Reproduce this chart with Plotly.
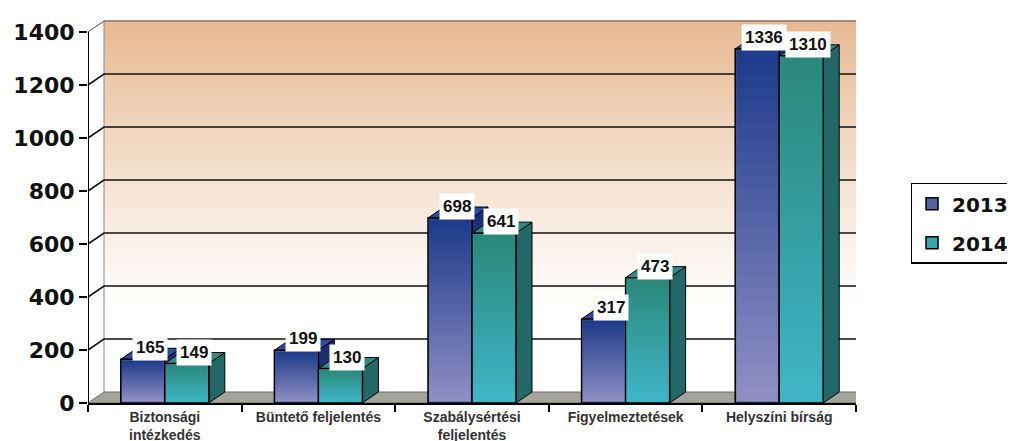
import plotly.graph_objects as go

# ---------------- data ----------------
categories = ["Biztonsági<br>intézkedés", "Büntető feljelentés",
              "Szabálysértési<br>feljelentés", "Figyelmeztetések", "Helyszíni bírság"]
series_names = ["2013", "2014"]
values_2013 = [165, 199, 698, 317, 1336]
values_2014 = [149, 130, 641, 473, 1310]
y_ticks = [0, 200, 400, 600, 800, 1000, 1200, 1400]

# ---------------- geometry / style ----------------
W, H = 1015, 441
ML, MR, MT, MB = 80, 167, 10, 46
PW, PH = W - ML - MR, H - MT - MB
Y_TOP = y_ticks[-1]
PX_PER_UNIT = (395 - 24) / Y_TOP
Y_RANGE_MAX = PH / PX_PER_UNIT
n = len(categories)
PX_PER_CAT = PW / n
DXP, DYP = 16, 11                      # 3-D depth in pixels
dx = DXP / PX_PER_CAT
dy = DYP / PX_PER_UNIT
BARGAP = 0.427
bw = (1 - BARGAP) / 2
inx = 1.2 / PX_PER_CAT
iny = 1.2 / PX_PER_UNIT

def hex2rgb(h):
    h = h.lstrip('#')
    return tuple(int(h[i:i + 2], 16) for i in (0, 2, 4))

def lerp(c0, c1, t):
    a, b = hex2rgb(c0), hex2rgb(c1)
    return 'rgb(%d,%d,%d)' % tuple(round(a[i] + (b[i] - a[i]) * t) for i in range(3))

front_grad = {"2013": ("#9090c4", "#1c3a8a"), "2014": ("#3fb6c8", "#2a887a")}
top_face = {"2013": "#2d4b9c", "2014": "#2e8c86"}
side_face = {"2013": "#1b2f72", "2014": "#216866"}
legend_col = {"2013": "#5262a9", "2014": "#38a6ac"}

shapes = []
x0w, x1w = -0.5 + dx, n - 0.5 + dx

# back wall gradient
NB = 70
for k in range(NB):
    v0 = dy + (Y_TOP) * k / NB
    v1 = dy + (Y_TOP) * (k + 1) / NB
    vm = (v0 + v1) / 2 - dy
    t = max(0.0, min(1.0, (vm - 300) / (Y_TOP - 300)))
    shapes.append(dict(type="rect", xref="x", yref="y", x0=x0w, x1=x1w, y0=v0, y1=v1 + 3,
                       fillcolor=lerp("#ffffff", "#e7b992", t ** 1.1), line=dict(width=0), layer="below"))

# wall edges
shapes.append(dict(type="line", xref="x", yref="y", x0=x0w, x1=x0w, y0=dy, y1=Y_TOP + dy,
                   line=dict(color="#8a8a8a", width=1), layer="below"))
shapes.append(dict(type="line", xref="x", yref="y", x0=x1w, x1=x1w, y0=dy, y1=Y_TOP + dy,
                   line=dict(color="#8a8a8a", width=1.2), layer="below"))

# grid lines (left side wall diagonal + back wall horizontal)
for v in y_ticks[1:]:
    col, wd = ("#555555", 1) if v == Y_TOP else ("#111111", 1.6)
    shapes.append(dict(type="path", xref="x", yref="y",
                       path="M %f,%f L %f,%f L %f,%f" % (-0.5, v, x0w, v + dy, x1w, v + dy),
                       line=dict(color=col, width=wd), layer="below"))

# floor
shapes.append(dict(type="path", xref="x", yref="y",
                   path="M %f,%f L %f,%f L %f,%f L %f,%f Z" % (-0.5, 0, n - 0.5, 0, x1w, dy, x0w, dy),
                   fillcolor="#a4a49c", line=dict(color="#6e6e68", width=1), layer="below"))

# bar 3-D faces
for i in range(n):
    for s, vals, off in (("2013", values_2013, -bw), ("2014", values_2014, 0.0)):
        v = vals[i]
        xa, xb = i + off, i + off + bw
        shapes.append(dict(type="path", xref="x", yref="y",
                           path="M %f,%f L %f,%f L %f,%f L %f,%f Z" % (xb, 0, xb + dx, dy, xb + dx, v + dy, xb, v),
                           fillcolor=side_face[s], line=dict(color="#000000", width=1), layer="below"))
        shapes.append(dict(type="path", xref="x", yref="y",
                           path="M %f,%f L %f,%f L %f,%f L %f,%f Z" % (xa, v, xb, v, xb + dx, v + dy, xa + dx, v + dy),
                           fillcolor=top_face[s], line=dict(color="#000000", width=1), layer="below"))

# gradient on bar fronts (inside the outline)
NG = 28
for i in range(n):
    for s, vals, off in (("2013", values_2013, -bw), ("2014", values_2014, 0.0)):
        v = vals[i]
        xa, xb = i + off + inx, i + off + bw - inx
        c0, c1 = front_grad[s]
        top = v - iny
        for k in range(NG):
            y0 = iny + (top - iny) * k / NG
            y1 = iny + (top - iny) * (k + 1) / NG
            y1o = min(top, y1 + (top - iny) / NG * 0.5)
            shapes.append(dict(type="rect", xref="x", yref="y", x0=xa, x1=xb, y0=y0, y1=y1o,
                               fillcolor=lerp(c0, c1, (k + 0.5) / NG), line=dict(width=0), layer="above"))

# front y axis line
shapes.append(dict(type="line", xref="x", yref="y", x0=-0.5, x1=-0.5, y0=0, y1=Y_TOP,
                   line=dict(color="#000000", width=2), layer="above"))

fig = go.Figure()
xs = list(range(n))
fig.add_trace(go.Bar(name=series_names[0], x=xs, y=values_2013, legendgroup="a",
                     marker=dict(color=legend_col["2013"], line=dict(color="#000000", width=1.5))))
fig.add_trace(go.Bar(name=series_names[1], x=xs, y=values_2014, legendgroup="b",
                     marker=dict(color=legend_col["2014"], line=dict(color="#000000", width=1.5))))

annotations = []
for i in range(n):
    for vals, off in ((values_2013, -bw / 2), (values_2014, bw / 2)):
        annotations.append(dict(x=i + off, y=vals[i], xref="x", yref="y", text=str(vals[i]),
                                showarrow=False, xanchor="center", yanchor="bottom", xshift=7, yshift=-2,
                                bgcolor="#ffffff", borderpad=3,
                                font=dict(family="Liberation Sans, Arial", size=17, color="#111111", weight="bold")))

fig.update_layout(
    width=W, height=H, margin=dict(l=ML, r=MR, t=MT, b=MB, autoexpand=False),
    paper_bgcolor="#ffffff", plot_bgcolor="rgba(0,0,0,0)",
    barmode="group", bargap=BARGAP, bargroupgap=0,
    shapes=shapes, annotations=annotations, hovermode=False,
    legend=dict(x=1.071, y=0.572, xanchor="left", yanchor="top", bordercolor="#000000", borderwidth=1.5,
                bgcolor="#ffffff", font=dict(family="DejaVu Sans", size=20, color="#111111", weight="bold"),
                itemwidth=30, traceorder="grouped", tracegroupgap=10),
    xaxis=dict(range=[-0.5, n - 0.5], tickvals=xs, ticktext=categories, ticks="", showgrid=False,
               zeroline=False, showline=True, linecolor="#000000", linewidth=2, automargin=False,
               tickfont=dict(family="Liberation Sans, Arial", size=14, color="#333333", weight="bold"),
               minor=dict(ticks="outside", tick0=-0.5, dtick=1, ticklen=7, tickwidth=1.6,
                          tickcolor="#000000", showgrid=False)),
    yaxis=dict(range=[0, Y_RANGE_MAX], tickvals=y_ticks, ticks="outside", ticklen=8, tickwidth=1.6,
               tickcolor="#000000", showgrid=False, zeroline=False, showline=False, automargin=False,
               tickfont=dict(family="DejaVu Sans", size=22, color="#111111", weight="bold")),
    showlegend=True,
)

fig.write_html("out.html")
